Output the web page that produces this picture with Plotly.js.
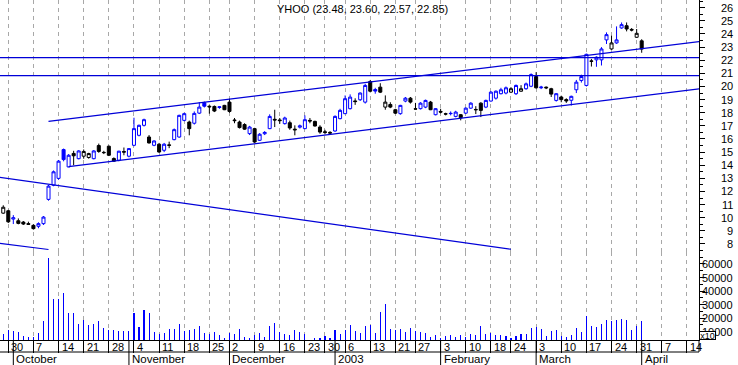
<!DOCTYPE html>
<html><head><meta charset="utf-8">
<script src="https://cdn.plot.ly/plotly-3.0.1.min.js"></script>
<style>html,body{margin:0;padding:0;background:#fff;}#chart{width:738px;height:365px;}</style>
</head><body><div id="chart"></div>
<script>
// ---------- data ----------
const symbol = 'YHOO';
const padBefore = ['2002-09-23','2002-09-24','2002-09-25','2002-09-26'];
const dates = [
'2002-09-27','2002-09-30',
'2002-10-01','2002-10-02','2002-10-03','2002-10-04','2002-10-07','2002-10-08','2002-10-09','2002-10-10','2002-10-11',
'2002-10-14','2002-10-15','2002-10-16','2002-10-17','2002-10-18','2002-10-21','2002-10-22','2002-10-23','2002-10-24','2002-10-25',
'2002-10-28','2002-10-29','2002-10-30','2002-10-31',
'2002-11-01','2002-11-04','2002-11-05','2002-11-06','2002-11-07','2002-11-08','2002-11-11','2002-11-12','2002-11-13','2002-11-14','2002-11-15',
'2002-11-18','2002-11-19','2002-11-20','2002-11-21','2002-11-22','2002-11-25','2002-11-26','2002-11-27','2002-11-29',
'2002-12-02','2002-12-03','2002-12-04','2002-12-05','2002-12-06','2002-12-09','2002-12-10','2002-12-11','2002-12-12','2002-12-13',
'2002-12-16','2002-12-17','2002-12-18','2002-12-19','2002-12-20','2002-12-23','2002-12-24','2002-12-26','2002-12-27','2002-12-30','2002-12-31',
'2003-01-02','2003-01-03','2003-01-06','2003-01-07','2003-01-08','2003-01-09','2003-01-10','2003-01-13','2003-01-14','2003-01-15','2003-01-16','2003-01-17',
'2003-01-21','2003-01-22','2003-01-23','2003-01-24','2003-01-27','2003-01-28','2003-01-29','2003-01-30','2003-01-31',
'2003-02-03','2003-02-04','2003-02-05','2003-02-06','2003-02-07','2003-02-10','2003-02-11','2003-02-12','2003-02-13','2003-02-14',
'2003-02-18','2003-02-19','2003-02-20','2003-02-21','2003-02-24','2003-02-25','2003-02-26','2003-02-27','2003-02-28',
'2003-03-03','2003-03-04','2003-03-05','2003-03-06','2003-03-07','2003-03-10','2003-03-11','2003-03-12','2003-03-13','2003-03-14',
'2003-03-17','2003-03-18','2003-03-19','2003-03-20','2003-03-21','2003-03-24','2003-03-25','2003-03-26','2003-03-27','2003-03-28','2003-03-31',
'2003-04-01'];
const padAfter = ['2003-04-02','2003-04-03','2003-04-04','2003-04-07','2003-04-08','2003-04-09','2003-04-10','2003-04-11','2003-04-14','2003-04-15','2003-04-16','2003-04-17'];

const open = [10.35,10.53,9.9,9.77,9.67,9.55,9.42,9.35,9.55,11.40,
12.48,13.0,15.19,13.87,14.9,14.5,14.69,14.59,14.5,15.5,
14.98,15.45,14.51,14.38,15.05,14.69,15.52,16.28,17.04,16.15,
15.52,15.6,15.14,15.55,15.95,16.15,17.42,17.29,17.2,17.97,
18.76,18.5,18.48,18.4,18.56,18.81,17.45,17.29,17.1,16.41,
16.79,15.9,16.4,16.79,17.5,17.45,17.17,17.24,16.75,16.9,
16.79,17.42,17.34,16.91,16.55,16.5,16.61,17.55,17.93,18.31,
18.9,18.99,18.81,20.38,19.77,19.95,18.43,18.63,18.23,17.93,
18.89,19.11,18.3,18.31,18.43,18.81,17.85,18.1,17.92,17.93,
17.72,17.85,17.97,18.35,18.25,18.73,18.43,18.89,19.11,19.45,
19.5,19.57,19.45,19.64,19.83,20.02,20.76,19.9,19.95,19.83,
18.94,19.2,19.0,18.95,19.75,20.46,20.08,21.95,22.03,22.03,
23.55,22.86,23.32,24.46,24.63,24.35,23.75,23.48];
const high = [10.95,10.6,10.2,9.95,9.75,9.7,9.5,9.65,10.13,12.5,
13.6,14.4,15.27,14.85,15.1,15.15,15.2,14.95,15.15,15.65,
15.1,15.5,14.6,15.1,15.35,15.3,17.62,17.1,17.55,16.3,
15.9,15.7,15.7,15.8,16.8,17.85,18.0,17.4,18.1,18.81,
18.85,18.56,18.55,18.5,18.6,19.07,17.6,17.4,17.2,17.0,
16.85,16.45,16.6,17.88,18.23,17.6,17.7,17.4,17.04,17.1,
17.8,17.6,17.4,17.05,16.7,16.6,17.8,18.3,19.32,19.4,
19.1,19.55,20.2,20.5,19.9,20.25,19.32,18.8,18.3,18.6,
19.2,19.2,18.75,18.8,19.0,18.9,18.35,18.3,18.0,18.1,
18.15,17.9,18.4,18.8,18.5,18.8,19.0,19.65,19.7,19.9,
20.0,19.95,20.15,20.1,20.3,21.0,21.09,20.05,20.0,19.9,
19.5,19.3,19.1,19.3,20.5,20.9,22.5,22.1,22.3,23.0,
24.12,23.87,24.58,24.88,24.88,24.45,24.38,23.60];
const low = [10.3,9.6,9.52,9.5,9.45,9.45,9.1,9.2,9.45,11.3,
12.4,12.9,14.3,13.85,14.0,14.45,14.5,14.5,14.45,14.95,
14.85,14.7,14.25,14.3,14.76,14.6,15.45,16.2,16.95,15.65,
15.45,14.95,15.0,15.3,15.9,16.1,17.35,16.28,17.1,17.9,
18.4,17.93,18.05,18.3,18.2,18.0,17.2,16.8,16.7,16.3,
15.7,15.85,16.3,16.75,16.91,17.15,17.1,16.7,16.28,16.8,
16.75,17.2,16.95,16.4,16.35,16.35,16.55,17.5,17.9,18.25,
18.6,18.9,18.7,19.55,19.45,19.5,18.23,18.35,17.9,17.85,
18.8,18.7,18.25,18.25,18.35,18.2,17.8,17.95,17.8,17.8,
17.65,17.42,17.9,18.3,17.9,17.67,18.35,18.85,19.0,19.4,
19.4,19.5,19.35,19.6,19.75,19.95,19.85,19.8,19.8,19.2,
18.85,18.8,18.75,18.55,19.5,20.3,20.0,21.52,21.5,21.6,
23.24,22.8,23.25,24.4,24.2,24.2,23.7,22.57];
const close = [10.8,9.69,10.0,9.57,9.52,9.5,9.17,9.55,10.05,12.41,
13.5,14.31,14.43,14.76,14.72,15.09,15.05,14.89,15.09,15.05,
14.96,14.76,14.31,15.07,15.0,15.27,16.79,17.04,17.47,15.70,
15.85,15.01,15.6,15.52,16.71,17.8,17.93,16.79,17.95,18.43,
18.5,18.45,18.13,18.45,18.23,18.10,17.4,16.87,16.75,16.91,
15.77,16.36,16.5,17.72,17.45,17.4,17.6,16.84,16.7,17.0,
17.47,17.37,16.99,16.53,16.5,16.45,17.72,18.18,19.07,19.19,
18.85,19.5,20.08,19.64,19.65,19.57,18.81,18.43,17.97,18.56,
19.11,18.81,18.28,18.73,18.94,18.23,18.31,18.05,17.9,17.95,
18.05,17.62,18.35,18.73,18.23,18.18,18.94,19.57,19.64,19.75,
19.9,19.83,20.08,19.83,20.2,20.91,19.9,19.95,19.9,19.42,
19.45,19.0,18.9,19.25,20.33,20.76,22.45,21.92,22.23,22.86,
23.95,23.32,23.55,24.71,24.38,24.3,24.05,22.85];
const volume = [8300,11200,10500,9700,6800,6100,6100,9000,17900,64600,
34100,34100,38500,23800,23800,15700,18600,14900,15700,17900,
12700,11200,11200,10500,10500,10500,23800,13400,26000,23800,
9700,8300,9000,12000,12000,15700,10500,11200,12000,14200,
9000,8300,9700,7500,5300,9000,8300,12000,6100,5300,
7500,9000,6100,14200,16400,9700,8300,7500,11200,9700,
8300,3900,5300,5300,6800,5300,11200,8300,11200,14900,
10500,9000,14200,14900,8800,24700,30400,12000,11200,12000,
9700,12700,10500,9700,9000,6100,7500,5100,6800,7500,
6100,7500,6100,8300,7500,14200,8300,9000,7500,7500,
6800,5100,6800,8300,8300,12700,13400,12000,6800,10500,
11200,6800,6100,7500,12700,9700,21600,14200,13400,15700,
18600,17900,18600,19400,18600,11200,14200,17900];

const weekTicks = ['2002-09-30','2002-10-07','2002-10-14','2002-10-21','2002-10-28','2002-11-04','2002-11-11','2002-11-18','2002-11-25',
'2002-12-02','2002-12-09','2002-12-16','2002-12-23','2002-12-30','2003-01-06','2003-01-13','2003-01-21','2003-01-27',
'2003-02-03','2003-02-10','2003-02-18','2003-02-24','2003-03-03','2003-03-10','2003-03-17','2003-03-24','2003-03-31','2003-04-07','2003-04-14'];
const weekLabels = ['30','7','14','21','28','4','11','18','25','2','9','16','23','30','6','13','21','27','3','10','18','24','3','10','17','24','31','7','14'];
const monthStarts = ['2002-10-01','2002-11-01','2002-12-02','2003-01-02','2003-02-03','2003-03-03','2003-04-01'];
const monthLabels = ['October','November','December','2003','February','March','April'];
const priceTicks = [8,9,10,11,12,13,14,15,16,17,18,19,20,21,22,23,24,25,26];
const volumeTicks = [10000,20000,30000,40000,50000,60000];

// user-drawn lines: [date, price] endpoints
const horizontalLevels = [22.2, 20.83];
const upperChannel = [['2002-10-10',17.34],['2003-04-17',23.45]];
const lowerChannel = [['2002-10-16',13.89],['2003-04-17',19.85]];
const fallingLine = [['2002-09-23',13.25],['2003-02-24',7.60]];
const fallingLine2 = [['2002-09-23',8.22],['2002-10-10',7.58]];

// ---------- styling ----------
const BLUE = '#0000ff';
const LBLUE = '#0000d8';
const NARROW = '"Liberation Sans Narrow", "Liberation Sans", Arial, sans-serif';
const REG = '"Liberation Sans", Arial, sans-serif';
const calendar = padBefore.concat(dates, padAfter);

const upIdx = [], downIdx = [];
close.forEach((c, i) => { if (i > 0 && c > close[i-1]) upIdx.push(i); else downIdx.push(i); });
const pick = (arr, idx) => idx.map(i => arr[i]);

function candle(idx, color) {
  return {
    type: 'candlestick', xaxis: 'x', yaxis: 'y',
    x: pick(dates, idx), open: pick(open, idx), high: pick(high, idx), low: pick(low, idx), close: pick(close, idx),
    increasing: {line: {color: color, width: 1}, fillcolor: '#ffffff'},
    decreasing: {line: {color: color, width: 1}, fillcolor: color},
    whiskerwidth: 0, hoverinfo: 'skip', showlegend: false
  };
}
function seg(pts, width) {
  return {type: 'scatter', mode: 'lines', xaxis: 'x', yaxis: 'y',
    x: pts.map(p => p[0]), y: pts.map(p => p[1]),
    line: {color: LBLUE, width: width}, hoverinfo: 'skip', showlegend: false};
}

const traces = [
  {type: 'bar', xaxis: 'x', yaxis: 'y2', x: dates, y: volume, width: 0.22,
   marker: {color: BLUE, line: {width: 0}}, hoverinfo: 'skip', showlegend: false},
  candle(downIdx, '#000000'),
  candle(upIdx, BLUE)
];
horizontalLevels.forEach(v => traces.push(seg([[calendar[0], v], [calendar[calendar.length-1], v]], 1.4)));
[upperChannel, lowerChannel, fallingLine, fallingLine2].forEach(l => traces.push(seg(l, 1.2)));

// ---------- annotations ----------
const PLOT_W = 699, PLOT_H = 340;
const ann = [];
const last = dates.length - 1;
ann.push({xref: 'paper', yref: 'paper', x: 275 / PLOT_W, y: (PLOT_H - 9) / PLOT_H, xanchor: 'left', yanchor: 'middle',
  text: symbol + ' (' + [open[last], high[last], low[last], close[last]].map(v => v.toFixed(2)).join(', ') + ')',
  showarrow: false, font: {family: NARROW, size: 11, color: '#000'}});
weekTicks.forEach((d, k) => ann.push({xref: 'x', yref: 'paper', x: d, y: (PLOT_H - 347) / PLOT_H, xanchor: 'left', yanchor: 'middle',
  xshift: 1, text: weekLabels[k], showarrow: false, font: {family: NARROW, size: 11, color: '#000'}}));
monthStarts.forEach((d, k) => ann.push({xref: 'x', yref: 'paper', x: d, y: (PLOT_H - 359) / PLOT_H, xanchor: 'left', yanchor: 'middle',
  xshift: 1, text: monthLabels[k], showarrow: false, font: {family: NARROW, size: 11.5, color: '#000'}}));
priceTicks.forEach(v => ann.push({xref: 'paper', yref: 'y', x: 735 / PLOT_W, y: v, xanchor: 'right', yanchor: 'middle',
  text: String(v), showarrow: false, font: {family: REG, size: 11, color: '#000'}}));
volumeTicks.forEach(v => ann.push({xref: 'paper', yref: 'y2', x: 735 / PLOT_W, y: v, xanchor: 'right', yanchor: 'middle',
  text: String(v), showarrow: false, font: {family: REG, size: 11, color: '#000'}}));
ann.push({xref: 'paper', yref: 'paper', x: 707.3 / PLOT_W, y: (PLOT_H - 335.2) / PLOT_H, xanchor: 'center', yanchor: 'middle',
  text: 'x10', width: 15, height: 7, borderpad: 0, borderwidth: 1, bordercolor: '#000', bgcolor: '#fff',
  showarrow: false, font: {family: NARROW, size: 9, color: '#000'}});

// ---------- axis decoration shapes ----------
const shapes = [];
shapes.push({type: 'line', xref: 'paper', yref: 'paper', x0: 0, x1: 1, y0: -12 / PLOT_H, y1: -12 / PLOT_H, line: {color: '#000', width: 1}});
shapes.push({type: 'line', xref: 'paper', yref: 'paper', x0: 1, x1: 1, y0: 0, y1: -12 / PLOT_H, line: {color: '#000', width: 1}});
monthStarts.forEach(d => shapes.push({type: 'line', xref: 'x', yref: 'paper', x0: d, x1: d, y0: 0, y1: -25 / PLOT_H, line: {color: '#000', width: 1}}));

const VOL_H = 88;
const layout = {
  width: 738, height: 365,
  margin: {l: 0, r: 39, t: 0, b: 25, pad: 0},
  paper_bgcolor: '#ffffff', plot_bgcolor: '#ffffff',
  showlegend: false, hovermode: false,
  boxgap: 0.25, boxgroupgap: 0.2,
  bargap: 0,
  xaxis: {
    type: 'category', categoryorder: 'array', categoryarray: calendar,
    range: [3.35, 142.4], rangeslider: {visible: false}, anchor: 'y2',
    showline: true, linecolor: '#000', linewidth: 1,
    ticks: 'outside', ticklen: 12, tickwidth: 1, tickcolor: '#000',
    tickmode: 'array', tickvals: weekTicks, ticktext: weekTicks.map(() => ''), showticklabels: false,
    showgrid: true, gridcolor: '#a8a8a8', griddash: '4px,4px', gridwidth: 1, zeroline: false, fixedrange: true
  },
  yaxis: {
    domain: [VOL_H / PLOT_H, 1], range: [7.39, 26.59], side: 'right', anchor: 'x',
    showline: true, linecolor: '#000', linewidth: 1,
    ticks: 'outside', ticklen: 5, tickcolor: '#000', tickmode: 'array', tickvals: priceTicks, showticklabels: false,
    minor: {ticks: 'outside', ticklen: 3, tickcolor: '#000', tickmode: 'linear', tick0: 0, dtick: 0.5, showgrid: false},
    showgrid: false, zeroline: false, fixedrange: true
  },
  yaxis2: {
    domain: [0, VOL_H / PLOT_H], range: [3840, 68830], side: 'right', anchor: 'x',
    showline: true, linecolor: '#000', linewidth: 1,
    ticks: 'outside', ticklen: 5, tickcolor: '#000', tickmode: 'array', tickvals: volumeTicks, showticklabels: false,
    minor: {ticks: 'outside', ticklen: 3, tickcolor: '#000', tickmode: 'linear', tick0: 0, dtick: 5000, showgrid: false},
    showgrid: false, zeroline: false, fixedrange: true
  },
  annotations: ann,
  shapes: shapes
};
Plotly.newPlot('chart', traces, layout, {staticPlot: true, displayModeBar: false});
</script>
</body></html>
